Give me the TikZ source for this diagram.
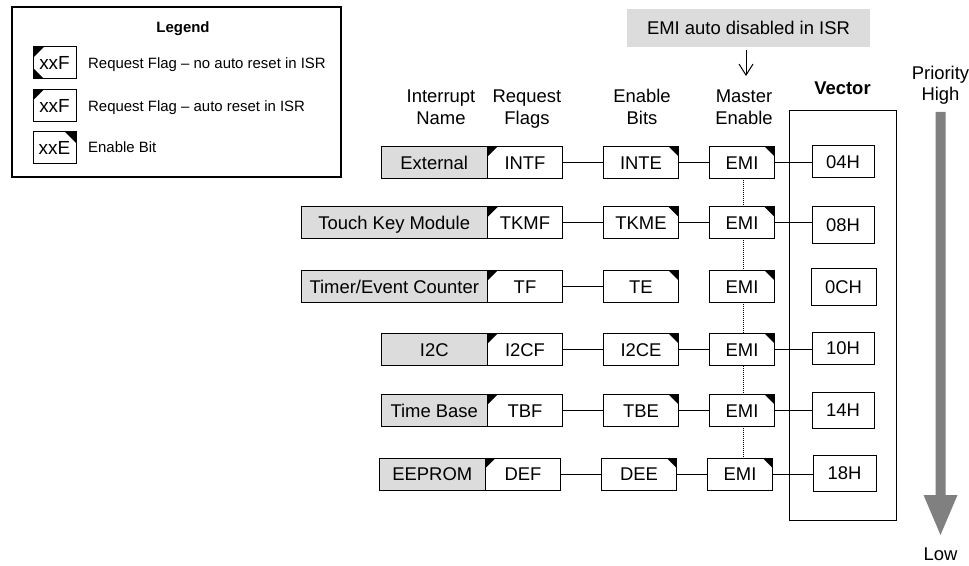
\documentclass[tikz,border=0pt]{standalone}
\usepackage{fontspec}
\setmainfont{Liberation Sans}
\usetikzlibrary{arrows.meta}
\definecolor{namegray}{HTML}{DCDCDC}
\definecolor{prigray}{HTML}{808080}
\begin{document}
\begin{tikzpicture}[x=1bp,y=-1bp,
  big/.style={font=\fontsize{18.5}{22}\selectfont},
  small/.style={font=\fontsize{15}{18}\selectfont},
  bx/.style={draw, line width=1bp, inner sep=0pt, text height=13.2bp, text depth=0pt, big, minimum height=32bp},
  namebx/.style={bx, fill=namegray, minimum width=106.5bp},
  widename/.style={bx, fill=namegray, minimum width=186.5bp},
  flagbx/.style={bx, fill=white, minimum width=75bp,
    path picture={\fill[black] (path picture bounding box.north west) -- ++(10bp,0pt) -- ++(-10bp,-10bp) -- cycle;}},
  enbx/.style={bx, fill=white, minimum width=75bp,
    path picture={\fill[black] (path picture bounding box.north east) -- ++(-10bp,0pt) -- ++(10bp,-10bp) -- cycle;}},
  emibx/.style={enbx, minimum width=65bp},
  vecbx/.style={bx, fill=white, minimum width=62bp},
  wire/.style={line width=1bp},
  hdr/.style={big, anchor=base, inner sep=0pt},
  legicon/.style={draw, line width=1bp, inner sep=0pt, fill=white, minimum width=43bp, minimum height=32bp,
    text height=13.6bp, text depth=0pt, font=\fontsize{19}{22}\selectfont},
  legtext/.style={small, anchor=base west, inner sep=0pt}
]
\useasboundingbox (0,0) rectangle (969,566);

% ---------- Legend ----------
\node[draw, line width=1.3bp, minimum width=329bp, minimum height=170bp, inner sep=0pt] (legbox) at (176.5,92) {};
\node[font=\fontsize{15}{18}\selectfont\bfseries, anchor=base, inner sep=0pt] (legtitle) at (183,33) {Legend};
\node[legicon, path picture={
    \fill[black] (path picture bounding box.north west) -- ++(11bp,0pt) -- ++(-11bp,-11bp) -- cycle;
    \fill[black] (path picture bounding box.south west) -- ++(11bp,0pt) -- ++(-11bp,11bp) -- cycle;}]
  (lg1) at (54.5,63) {xxF};
\node[legicon, path picture={
    \fill[black] (path picture bounding box.north west) -- ++(11bp,0pt) -- ++(-11bp,-11bp) -- cycle;}]
  (lg2) at (54.5,105.5) {xxF};
\node[legicon, path picture={
    \fill[black] (path picture bounding box.north east) -- ++(-11bp,0pt) -- ++(11bp,-11bp) -- cycle;}]
  (lg3) at (54.5,148) {xxE};
\node[legtext] (lt1) at (88,68.5) {Request Flag – no auto reset in ISR};
\node[legtext] (lt2) at (88,111.5) {Request Flag – auto reset in ISR};
\node[legtext] (lt3) at (88,153) {Enable Bit};

% ---------- Headers ----------
\node[hdr] (h1a) at (441,103) {Interrupt};
\node[hdr] (h1b) at (441,125) {Name};
\node[hdr] (h2a) at (527,103) {Request};
\node[hdr] (h2b) at (527,125) {Flags};
\node[hdr] (h3a) at (642,103) {Enable};
\node[hdr] (h3b) at (642,125) {Bits};
\node[hdr] (h4a) at (744,103) {Master};
\node[hdr] (h4b) at (744,125) {Enable};
\node[hdr, font=\fontsize{18.5}{22}\selectfont\bfseries] (hvec) at (842.5,95) {Vector};
\node[hdr] (hpri) at (940.5,80) {Priority};
\node[hdr] (hhigh) at (940.5,101) {High};
\node[hdr] (hlow) at (940.5,560) {Low};

% ---------- EMI note ----------
\node[fill=namegray, minimum width=243bp, minimum height=38bp, inner sep=0pt, big, text height=13.2bp, text depth=0pt] (note) at (748.5,28) {EMI auto disabled in ISR};
\coordinate (arrS) at (746,50);
\coordinate (arrE) at (746,76);
\draw[line width=1bp, -{Straight Barb[length=11bp,width=14bp]}] (arrS) -- (arrE);

% ---------- Vector container ----------
\node[draw, line width=1bp, minimum width=107bp, minimum height=409bp, inner sep=0pt] (vbox) at (842.5,315.5) {};

% ---------- Priority arrow ----------
\fill[prigray] (935.5,112) -- (945.5,112) -- (945.5,495) -- (957.5,495) -- (940.5,535) -- (923.5,495) -- (935.5,495) -- cycle;

% ---------- dotted EMI chain (behind boxes) ----------
\coordinate (dotS) at (743,178.5);
\coordinate (dotE) at (743,458);
\draw[line width=1bp, densely dotted] (dotS) -- (dotE);

% ---------- Rows ----------
% Row 1
\node[namebx] (n1) at (434.25,162.5) {External};
\node[flagbx] (f1) at (525,162.5) {INTF};
\node[enbx] (e1) at (641,162.5) {INTE};
\node[emibx] (m1) at (742,162.5) {EMI};
\node[vecbx] (v1) at (843,162) {04H};
% Row 2
\node[widename] (n2) at (394.25,223) {Touch Key Module};
\node[flagbx] (f2) at (525,223) {TKMF};
\node[enbx] (e2) at (641,223) {TKME};
\node[emibx] (m2) at (742,223) {EMI};
\node[vecbx, minimum height=36bp] (v2) at (843,225) {08H};
% Row 3
\node[widename] (n3) at (394.25,286.5) {Timer/Event Counter};
\node[flagbx] (f3) at (525,286.5) {TF};
\node[enbx] (e3) at (641,286.5) {TE};
\node[emibx] (m3) at (742,286.5) {EMI};
\node[vecbx, minimum height=36bp, minimum width=65bp] (v3) at (843.5,287) {0CH};
% Row 4
\node[namebx] (n4) at (434.25,349.5) {I2C};
\node[flagbx] (f4) at (525,349.5) {I2CF};
\node[enbx] (e4) at (641,349.5) {I2CE};
\node[emibx] (m4) at (742,349.5) {EMI};
\node[vecbx] (v4) at (843,348) {10H};
% Row 5
\node[namebx] (n5) at (434.25,410.5) {Time Base};
\node[flagbx] (f5) at (525,410.5) {TBF};
\node[enbx] (e5) at (641,410.5) {TBE};
\node[emibx] (m5) at (742,410.5) {EMI};
\node[vecbx, minimum height=36bp] (v5) at (843,410) {14H};
% Row 6
\node[namebx] (n6) at (432.25,474) {EEPROM};
\node[flagbx] (f6) at (523,474) {DEF};
\node[enbx] (e6) at (639,474) {DEE};
\node[emibx] (m6) at (740,474) {EMI};
\node[vecbx, minimum height=36bp, minimum width=63bp] (v6) at (844.5,473) {18H};

% ---------- Connectors ----------
\draw[wire] (f1) -- (e1); \draw[wire] (e1) -- (m1); \draw[wire] (m1.east) -- (m1.east -| v1.west);
\draw[wire] (f2) -- (e2); \draw[wire] (e2) -- (m2); \draw[wire] (m2.east) -- (m2.east -| v2.west);
\draw[wire] (f3) -- (e3);
\draw[wire] (f4) -- (e4); \draw[wire] (e4) -- (m4); \draw[wire] (m4.east) -- (m4.east -| v4.west);
\draw[wire] (f5) -- (e5); \draw[wire] (e5) -- (m5); \draw[wire] (m5.east) -- (m5.east -| v5.west);
\draw[wire] (f6) -- (e6); \draw[wire] (e6) -- (m6); \draw[wire] (m6.east) -- (m6.east -| v6.west);
\end{tikzpicture}
\end{document}
